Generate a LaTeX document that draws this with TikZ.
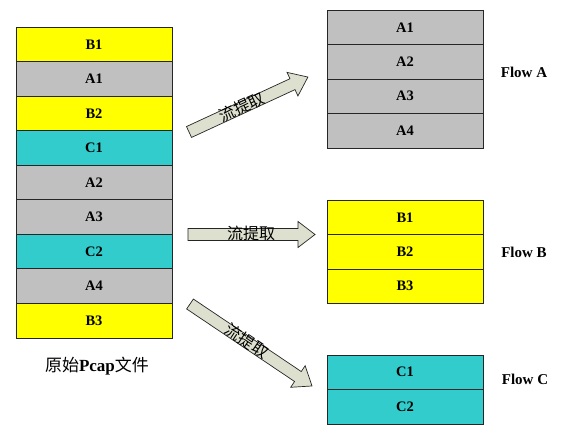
\documentclass[tikz,border=0pt]{standalone}
\usepackage{fontspec}
\setmainfont{Liberation Serif}
\newfontfamily\cjk{Noto Sans CJK SC}
\definecolor{ylw}{RGB}{255,255,0}
\definecolor{gry}{RGB}{192,192,192}
\definecolor{tealc}{RGB}{51,204,204}
\definecolor{arrowfill}{RGB}{221,224,206}
\newcommand\blockarrow[4]{%
\begin{scope}[shift={(#1,#2)}, rotate=#3]
\draw[arrowstyle] (0,-6) -- ({#4-17},-6) -- ({#4-17},-13) -- (#4,0) -- ({#4-17},13) -- ({#4-17},6) -- (0,6) -- cycle;
\end{scope}}
\begin{document}
\begin{tikzpicture}[x=1pt,y=-1pt,
  cell/.style={draw=black!85, line width=0.7pt, minimum width=156pt, minimum height=34.55pt, inner sep=0pt, font=\fontsize{14.5}{16}\selectfont\bfseries},
  yc/.style={cell, fill=ylw},
  gc/.style={cell, fill=gry},
  tc/.style={cell, fill=tealc},
  flowlbl/.style={font=\fontsize{15}{17}\selectfont\bfseries, inner sep=0pt},
  arrowstyle/.style={draw=black!85, line width=0.7pt, fill=arrowfill, line join=miter},
  alabel/.style={font=\fontsize{16}{18}\selectfont\cjk, text=black, inner sep=0pt}]
\useasboundingbox (0,0) rectangle (561,427);
% original pcap file
\node[yc] (l1) at (94,44.3) {B1};
\node[gc] (l2) at (94,78.8) {A1};
\node[yc] (l3) at (94,113.4) {B2};
\node[tc] (l4) at (94,147.9) {C1};
\node[gc] (l5) at (94,182.5) {A2};
\node[gc] (l6) at (94,217.0) {A3};
\node[tc] (l7) at (94,251.6) {C2};
\node[gc] (l8) at (94,286.1) {A4};
\node[yc] (l9) at (94,320.7) {B3};
\node[font=\fontsize{17}{19}\selectfont\bfseries, inner sep=0pt] (src) at (97,366) {{\cjk\mdseries 原始}Pcap{\cjk\mdseries 文件}};
% flow A
\node[gc] (a1) at (405,27.25) {A1};
\node[gc] (a2) at (405,61.75) {A2};
\node[gc] (a3) at (405,96.25) {A3};
\node[gc] (a4) at (405,130.75) {A4};
\node[flowlbl] (fa) at (524,72) {Flow A};
% flow B
\node[yc] (b1) at (405,217.25) {B1};
\node[yc] (b2) at (405,251.75) {B2};
\node[yc] (b3) at (405,286.25) {B3};
\node[flowlbl] (fb) at (524,252) {Flow B};
% flow C
\node[tc] (c1) at (405,372.25) {C1};
\node[tc] (c2) at (405,406.75) {C2};
\node[flowlbl] (fc) at (525,379) {Flow C};
% block arrows
\blockarrow{189}{132}{24.8}{131}
\blockarrow{188}{234.5}{0}{127}
\blockarrow{190}{304}{-33.9}{147}
\node[alabel, rotate=24.8] (t1) at (242,107) {流提取};
\node[alabel] (t2) at (251,233) {流提取};
\node[alabel, rotate=-33.9] (t3) at (247,341) {流提取};
\end{tikzpicture}
\end{document}
